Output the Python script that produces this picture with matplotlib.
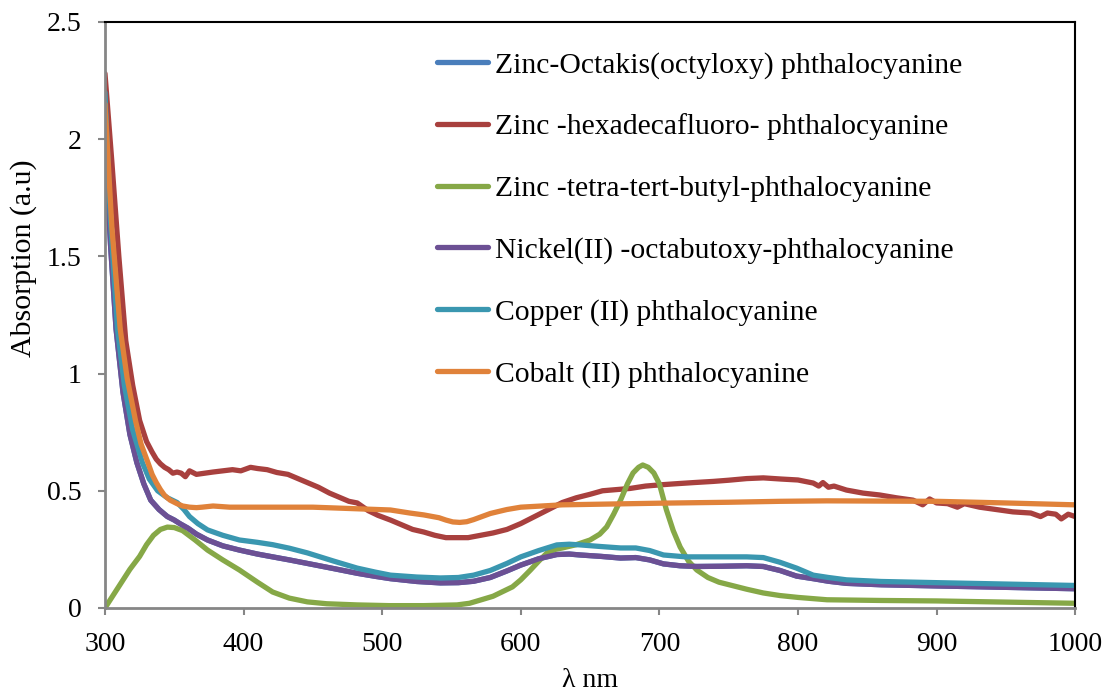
import matplotlib.pyplot as plt

plt.rcParams['font.family'] = ['Liberation Serif', 'DejaVu Serif']

# wavelength (nm) / absorption pairs
octa_x = [300, 304, 308, 313, 318, 323, 328, 333, 339, 345, 350, 354, 360, 366, 374, 385, 397, 410, 421, 433, 446, 465, 482, 495, 506, 525, 542, 555, 566, 578, 590, 600, 613, 626, 635, 643, 658, 672, 683, 693, 703, 715, 727, 745, 763, 775, 787, 799, 811, 822, 835, 860, 900, 950, 1000]
octa_y = [2.00, 1.55, 1.19, 0.92, 0.74, 0.62, 0.53, 0.46, 0.42, 0.39, 0.375, 0.36, 0.34, 0.315, 0.29, 0.265, 0.247, 0.23, 0.218, 0.205, 0.19, 0.168, 0.148, 0.135, 0.125, 0.113, 0.107, 0.108, 0.114, 0.13, 0.158, 0.183, 0.21, 0.228, 0.23, 0.226, 0.22, 0.213, 0.215, 0.205, 0.188, 0.18, 0.177, 0.178, 0.18, 0.177, 0.16, 0.136, 0.125, 0.114, 0.105, 0.099, 0.094, 0.088, 0.082]

hexa_x = [300, 305, 310, 315, 320, 325, 330, 334, 337, 340, 343, 346, 349, 352, 355, 358, 361, 366, 372, 378, 385, 392, 398, 405, 410, 417, 424, 432, 440, 446, 454, 462, 470, 476, 482, 490, 497, 506, 514, 522, 530, 538, 546, 554, 562, 571, 580, 590, 600, 610, 620, 630, 640, 650, 659, 669, 679, 690, 700, 712, 725, 739, 750, 763, 775, 788, 800, 811, 815, 818, 822, 826, 835, 847, 859, 871, 883, 890, 895, 900, 908, 915, 920, 931, 943, 955, 968, 975, 980, 986, 990, 995, 1000]
hexa_y = [2.28, 1.90, 1.50, 1.14, 0.95, 0.80, 0.71, 0.665, 0.635, 0.615, 0.60, 0.59, 0.575, 0.58, 0.575, 0.56, 0.585, 0.57, 0.575, 0.58, 0.585, 0.59, 0.585, 0.60, 0.595, 0.59, 0.578, 0.57, 0.55, 0.535, 0.515, 0.49, 0.47, 0.455, 0.448, 0.415, 0.395, 0.375, 0.355, 0.335, 0.324, 0.31, 0.30, 0.30, 0.30, 0.31, 0.32, 0.335, 0.36, 0.39, 0.42, 0.45, 0.47, 0.485, 0.50, 0.505, 0.51, 0.52, 0.525, 0.53, 0.535, 0.54, 0.545, 0.552, 0.555, 0.55, 0.546, 0.533, 0.52, 0.535, 0.515, 0.52, 0.503, 0.49, 0.482, 0.47, 0.46, 0.44, 0.465, 0.448, 0.445, 0.43, 0.445, 0.43, 0.42, 0.41, 0.405, 0.39, 0.405, 0.40, 0.38, 0.40, 0.39]

butyl_x = [300, 306, 312, 318, 325, 330, 335, 340, 345, 350, 356, 365, 374, 385, 397, 410, 421, 433, 446, 460, 482, 505, 530, 554, 563, 571, 580, 587, 594, 600, 607, 613, 619, 625, 630, 640, 650, 657, 662, 667, 672, 677, 681, 685, 688, 692, 696, 700, 705, 710, 715, 721, 727, 735, 743, 751, 763, 775, 787, 800, 821, 860, 900, 950, 1000]
butyl_y = [0.00, 0.055, 0.11, 0.165, 0.22, 0.27, 0.31, 0.335, 0.345, 0.343, 0.33, 0.29, 0.247, 0.205, 0.162, 0.11, 0.068, 0.042, 0.026, 0.018, 0.013, 0.01, 0.01, 0.013, 0.02, 0.034, 0.05, 0.07, 0.09, 0.12, 0.162, 0.2, 0.235, 0.25, 0.256, 0.27, 0.29, 0.315, 0.346, 0.4, 0.46, 0.53, 0.576, 0.60, 0.61, 0.60, 0.576, 0.53, 0.42, 0.33, 0.26, 0.2, 0.162, 0.13, 0.11, 0.098, 0.08, 0.064, 0.053, 0.045, 0.035, 0.032, 0.03, 0.025, 0.02]

nickel_x = octa_x
nickel_y = octa_y

copper_x = [300, 304, 309, 314, 320, 327, 332, 338, 345, 352, 357, 361, 367, 374, 385, 397, 410, 421, 433, 446, 465, 482, 495, 506, 525, 542, 555, 566, 578, 590, 600, 613, 626, 635, 643, 658, 672, 683, 693, 703, 719, 738, 763, 775, 787, 799, 811, 822, 835, 860, 900, 950, 1000]
copper_y = [2.20, 1.65, 1.19, 0.95, 0.76, 0.62, 0.55, 0.50, 0.47, 0.45, 0.42, 0.39, 0.36, 0.333, 0.31, 0.29, 0.28, 0.27, 0.255, 0.235, 0.2, 0.17, 0.153, 0.14, 0.132, 0.128, 0.13, 0.14, 0.16, 0.19, 0.218, 0.245, 0.269, 0.272, 0.269, 0.262, 0.256, 0.256, 0.245, 0.226, 0.218, 0.218, 0.218, 0.215, 0.195, 0.17, 0.14, 0.13, 0.12, 0.113, 0.108, 0.102, 0.096]

cobalt_x = [300, 305, 311, 316, 322, 326, 331, 334, 337, 340, 343, 347, 352, 356, 361, 366, 370, 378, 390, 410, 450, 506, 520, 530, 541, 546, 551, 556, 561, 566, 572, 578, 585, 590, 600, 615, 630, 660, 700, 750, 787, 821, 860, 900, 950, 1000]
cobalt_y = [2.15, 1.62, 1.19, 0.98, 0.80, 0.70, 0.62, 0.57, 0.535, 0.505, 0.48, 0.46, 0.445, 0.435, 0.43, 0.428, 0.43, 0.435, 0.43, 0.43, 0.43, 0.418, 0.405, 0.397, 0.385, 0.375, 0.367, 0.365, 0.368, 0.377, 0.39, 0.403, 0.413, 0.42, 0.43, 0.435, 0.44, 0.443, 0.447, 0.451, 0.455, 0.457, 0.456, 0.455, 0.448, 0.44]

labels = ['Zinc-Octakis(octyloxy) phthalocyanine',
          'Zinc -hexadecafluoro- phthalocyanine',
          'Zinc -tetra-tert-butyl-phthalocyanine',
          'Nickel(II) -octabutoxy-phthalocyanine',
          'Copper (II) phthalocyanine',
          'Cobalt (II) phthalocyanine']
colors = ['#4A7EBB', '#A8403E', '#86A847', '#6C5094', '#3A97B0', '#E0823A']

fig = plt.figure(figsize=(11.05, 6.93), dpi=100)
ax = fig.add_axes([0.095, 0.1227, 0.878, 0.8456])

series = [(octa_x, octa_y), (hexa_x, hexa_y), (butyl_x, butyl_y),
          (nickel_x, nickel_y), (copper_x, copper_y), (cobalt_x, cobalt_y)]
for (x, y), lab, c in zip(series, labels, colors):
    ax.plot(x, y, color=c, lw=3.8, label=lab, solid_capstyle='round', solid_joinstyle='round')

ax.set_xlim(300, 1000)
ax.set_ylim(0, 2.5)
ax.set_xticks(range(300, 1001, 100))
ax.set_yticks([0, 0.5, 1, 1.5, 2, 2.5])
ax.set_yticklabels(['0', '0.5', '1', '1.5', '2', '2.5'])
ax.tick_params(labelsize=20, direction='out', length=5, width=1.5, color='#868686')
ax.tick_params(axis='x', pad=12)
ax.tick_params(axis='y', pad=12)

for s in ['left', 'bottom']:
    ax.spines[s].set_color('#868686')
    ax.spines[s].set_linewidth(2)
for s in ['top', 'right']:
    ax.spines[s].set_color('black')
    ax.spines[s].set_linewidth(1.5)

ax.set_xlabel('λ nm', fontsize=20, labelpad=8)
ax.set_ylabel('Absorption (a.u)', fontsize=21.5)
ax.yaxis.set_label_coords(-0.07, 0.597)

ax.legend(loc='upper left', bbox_to_anchor=(0.315, 0.995), frameon=False, fontsize=21.3,
          handlelength=1.7, handletextpad=0.25, labelspacing=1.18)

fig.savefig('out.png', dpi=100)
